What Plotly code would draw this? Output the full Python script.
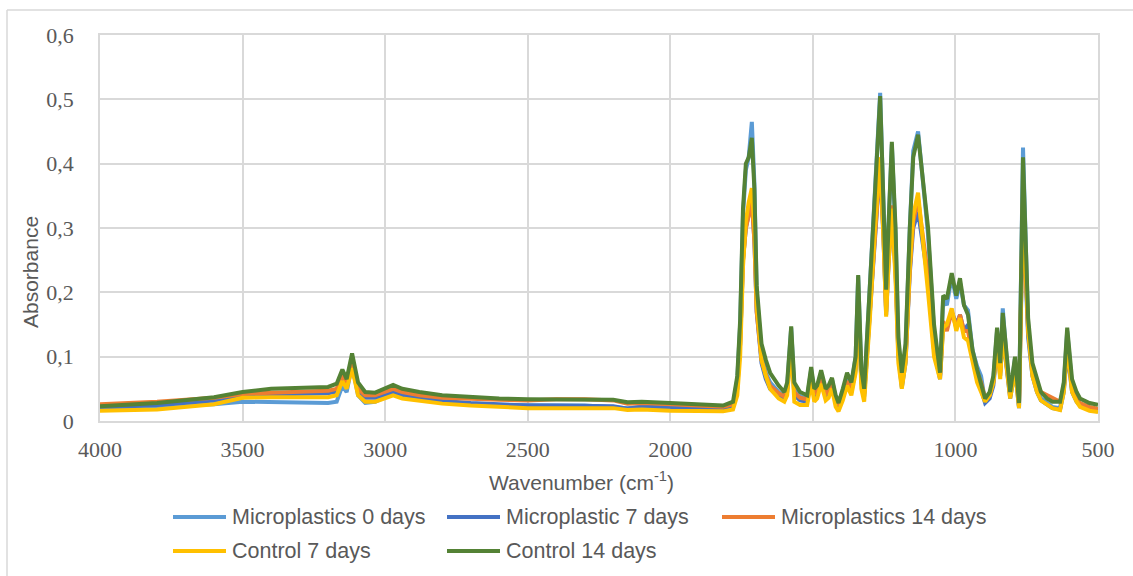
import plotly.graph_objects as go

# ---------------- data ----------------
wavenumber = [4000, 3800, 3600, 3500, 3400, 3300, 3200, 3170, 3150, 3135, 3116, 3095, 3070, 3035,
              3000, 2972, 2940, 2880, 2800, 2700, 2600, 2500, 2400, 2300, 2200, 2150, 2100, 2000,
              1900, 1815, 1780, 1765, 1755, 1745, 1735, 1725, 1714, 1705, 1697, 1680, 1665, 1650,
              1620, 1600, 1590, 1576, 1565, 1545, 1520, 1506, 1495, 1485, 1471, 1455, 1445, 1433,
              1420, 1410, 1395, 1380, 1365, 1350, 1341, 1330, 1320, 1300, 1282, 1264, 1252, 1243,
              1235, 1223, 1210, 1200, 1188, 1175, 1160, 1148, 1131, 1115, 1096, 1075, 1054, 1043,
              1030, 1013, 997, 984, 970, 956, 940, 924, 910, 896, 880, 867, 854, 843, 834, 820,
              808, 791, 777, 763, 755, 745, 730, 714, 700, 679, 660, 633, 620, 608, 598, 591,
              575, 563, 530, 500]

mp_0_days = [0.019, 0.022, 0.026, 0.030, 0.029, 0.028, 0.028, 0.030, 0.055, 0.045, 0.088, 0.040, 0.028, 0.030,
             0.037, 0.045, 0.038, 0.033, 0.030, 0.027, 0.025, 0.024, 0.024, 0.024, 0.022, 0.020, 0.022, 0.021,
             0.019, 0.019, 0.024, 0.065, 0.150, 0.320, 0.390, 0.410, 0.465, 0.370, 0.200, 0.105, 0.075, 0.060,
             0.045, 0.038, 0.055, 0.145, 0.050, 0.038, 0.035, 0.080, 0.045, 0.050, 0.075, 0.045, 0.050, 0.065,
             0.035, 0.022, 0.045, 0.070, 0.055, 0.100, 0.225, 0.075, 0.045, 0.200, 0.360, 0.510, 0.350, 0.200,
             0.300, 0.430, 0.290, 0.120, 0.060, 0.110, 0.300, 0.420, 0.450, 0.380, 0.290, 0.140, 0.070, 0.190,
             0.180, 0.225, 0.190, 0.215, 0.180, 0.172, 0.110, 0.085, 0.070, 0.030, 0.040, 0.065, 0.140, 0.085, 0.175, 0.095,
             0.040, 0.098, 0.022, 0.425, 0.300, 0.150, 0.075, 0.050, 0.035, 0.028, 0.022, 0.020, 0.055, 0.140, 0.090, 0.055,
             0.035, 0.027, 0.020, 0.017]

mp_7_days = [0.021, 0.025, 0.032, 0.039, 0.041, 0.042, 0.043, 0.046, 0.068, 0.055, 0.085, 0.045, 0.036, 0.036,
             0.041, 0.045, 0.040, 0.036, 0.031, 0.028, 0.026, 0.024, 0.024, 0.024, 0.023, 0.019, 0.022, 0.021,
             0.019, 0.018, 0.022, 0.050, 0.120, 0.250, 0.300, 0.320, 0.345, 0.280, 0.170, 0.090, 0.065, 0.050,
             0.038, 0.033, 0.045, 0.120, 0.040, 0.032, 0.030, 0.065, 0.038, 0.042, 0.062, 0.038, 0.042, 0.055,
             0.030, 0.020, 0.040, 0.060, 0.045, 0.080, 0.185, 0.060, 0.038, 0.160, 0.290, 0.400, 0.280, 0.165,
             0.240, 0.330, 0.230, 0.100, 0.052, 0.090, 0.230, 0.300, 0.325, 0.280, 0.220, 0.110, 0.065, 0.150,
             0.145, 0.170, 0.150, 0.165, 0.140, 0.150, 0.100, 0.070, 0.050, 0.028, 0.035, 0.055, 0.115, 0.070, 0.135, 0.080,
             0.035, 0.080, 0.020, 0.330, 0.240, 0.130, 0.070, 0.045, 0.032, 0.025, 0.020, 0.018, 0.045, 0.110, 0.075, 0.045,
             0.030, 0.024, 0.018, 0.015]

mp_14_days = [0.026, 0.030, 0.036, 0.042, 0.044, 0.045, 0.047, 0.050, 0.072, 0.058, 0.090, 0.050, 0.040, 0.040,
              0.045, 0.050, 0.045, 0.040, 0.036, 0.034, 0.033, 0.032, 0.034, 0.034, 0.032, 0.027, 0.028, 0.026,
              0.023, 0.022, 0.026, 0.055, 0.120, 0.250, 0.300, 0.320, 0.340, 0.280, 0.170, 0.095, 0.072, 0.055,
              0.043, 0.038, 0.050, 0.125, 0.045, 0.036, 0.034, 0.068, 0.042, 0.046, 0.065, 0.042, 0.046, 0.058,
              0.033, 0.024, 0.043, 0.062, 0.048, 0.085, 0.190, 0.065, 0.042, 0.165, 0.295, 0.405, 0.285, 0.170,
              0.245, 0.335, 0.235, 0.105, 0.058, 0.095, 0.235, 0.310, 0.345, 0.290, 0.225, 0.115, 0.070, 0.155,
              0.140, 0.170, 0.145, 0.165, 0.140, 0.140, 0.100, 0.075, 0.060, 0.035, 0.040, 0.060, 0.120, 0.075, 0.140, 0.085,
              0.040, 0.085, 0.028, 0.340, 0.250, 0.140, 0.080, 0.055, 0.045, 0.040, 0.035, 0.030, 0.050, 0.115, 0.080, 0.050,
              0.035, 0.028, 0.022, 0.019]

control_7_days = [0.016, 0.018, 0.026, 0.036, 0.037, 0.037, 0.037, 0.040, 0.062, 0.050, 0.082, 0.040, 0.030, 0.030,
                  0.036, 0.040, 0.035, 0.031, 0.027, 0.024, 0.022, 0.020, 0.020, 0.020, 0.020, 0.017, 0.018, 0.016,
                  0.015, 0.015, 0.018, 0.040, 0.100, 0.240, 0.310, 0.340, 0.362, 0.300, 0.180, 0.095, 0.070, 0.050,
                  0.035, 0.030, 0.040, 0.120, 0.030, 0.025, 0.025, 0.060, 0.030, 0.035, 0.058, 0.032, 0.036, 0.050,
                  0.022, 0.015, 0.032, 0.055, 0.040, 0.075, 0.190, 0.050, 0.030, 0.160, 0.300, 0.410, 0.280, 0.162,
                  0.240, 0.330, 0.220, 0.090, 0.050, 0.090, 0.240, 0.320, 0.355, 0.290, 0.200, 0.100, 0.065, 0.145,
                  0.150, 0.175, 0.140, 0.160, 0.130, 0.125, 0.090, 0.060, 0.045, 0.030, 0.040, 0.060, 0.120, 0.065, 0.140, 0.075,
                  0.035, 0.080, 0.020, 0.350, 0.250, 0.140, 0.070, 0.045, 0.032, 0.025, 0.020, 0.017, 0.045, 0.120, 0.075, 0.045,
                  0.030, 0.022, 0.016, 0.014]

control_14_days = [0.023, 0.028, 0.037, 0.045, 0.050, 0.051, 0.053, 0.058, 0.080, 0.065, 0.105, 0.060, 0.045, 0.044,
                   0.050, 0.056, 0.050, 0.045, 0.040, 0.037, 0.035, 0.034, 0.034, 0.034, 0.033, 0.029, 0.030, 0.028,
                   0.025, 0.024, 0.030, 0.070, 0.157, 0.330, 0.400, 0.410, 0.440, 0.360, 0.210, 0.120, 0.095, 0.075,
                   0.055, 0.045, 0.060, 0.147, 0.060, 0.045, 0.040, 0.084, 0.050, 0.055, 0.079, 0.050, 0.055, 0.067,
                   0.040, 0.028, 0.050, 0.075, 0.060, 0.100, 0.227, 0.080, 0.050, 0.200, 0.355, 0.505, 0.350, 0.204,
                   0.300, 0.434, 0.300, 0.130, 0.075, 0.120, 0.300, 0.410, 0.445, 0.380, 0.300, 0.150, 0.075, 0.195,
                   0.190, 0.230, 0.195, 0.222, 0.180, 0.165, 0.110, 0.080, 0.060, 0.035, 0.045, 0.070, 0.145, 0.090, 0.168, 0.100,
                   0.045, 0.100, 0.028, 0.410, 0.300, 0.160, 0.090, 0.064, 0.045, 0.035, 0.030, 0.030, 0.060, 0.145, 0.100, 0.065,
                   0.045, 0.035, 0.028, 0.025]

series_names = ["Microplastics 0 days", "Microplastic 7 days", "Microplastics 14 days",
                "Control 7 days", "Control 14 days"]
series_values = [mp_0_days, mp_7_days, mp_14_days, control_7_days, control_14_days]
series_colors = ["#5B9BD5", "#4472C4", "#ED7D31", "#FFC000", "#548235"]

x_tick_values = [4000, 3500, 3000, 2500, 2000, 1500, 1000, 500]
x_tick_labels = ["4000", "3500", "3000", "2500", "2000", "1500", "1000", "500"]
y_tick_values = [0, 0.1, 0.2, 0.3, 0.4, 0.5, 0.6]
y_tick_labels = ["0", "0,1", "0,2", "0,3", "0,4", "0,5", "0,6"]

# ---------------- layout geometry (pixels) ----------------
W, H = 1133, 576
PL, PR, PT, PB = 100, 1098, 35, 421   # plot area edges


def px_x(px):
    return (px - PL) / (PR - PL)


def px_y(py):
    return (PB - py) / (PB - PT)


GRID = "#D9D9D9"
TEXT = "#595959"

fig = go.Figure()
for name, vals, col in zip(series_names, series_values, series_colors):
    fig.add_trace(go.Scatter(x=wavenumber, y=vals, mode="lines", name=name,
                             line=dict(color=col, width=4), showlegend=False))

shapes = [
    # outer chart border (top and left visible)
    dict(type="line", xref="paper", yref="paper", x0=px_x(7), x1=px_x(1133), y0=px_y(10), y1=px_y(10),
         line=dict(color=GRID, width=1.5)),
    dict(type="line", xref="paper", yref="paper", x0=px_x(7), x1=px_x(7), y0=px_y(10), y1=px_y(578),
         line=dict(color=GRID, width=1.5)),
]
annotations = [
    dict(text="Absorbance", xref="paper", yref="paper", x=px_x(30), y=px_y(272), showarrow=False,
         textangle=-90, font=dict(family="Liberation Sans", size=21, color=TEXT),
         xanchor="center", yanchor="middle"),
    dict(text="Wavenumber (cm<sup>-1</sup>)", xref="paper", yref="paper", x=px_x(581), y=px_y(481),
         showarrow=False, font=dict(family="Liberation Sans", size=21, color=TEXT),
         xanchor="center", yanchor="middle"),
]

# manual legend (two rows, three columns) built from the series names/colours
legend_pos = [(173, 517), (447, 517), (722, 517), (173, 551), (447, 551)]
for (lx, ly), name, col in zip(legend_pos, series_names, series_colors):
    shapes.append(dict(type="line", xref="paper", yref="paper", x0=px_x(lx), x1=px_x(lx + 53),
                       y0=px_y(ly), y1=px_y(ly), line=dict(color=col, width=4)))
    annotations.append(dict(text=name, xref="paper", yref="paper", x=px_x(lx + 57), y=px_y(ly),
                            showarrow=False, xanchor="left", yanchor="middle",
                            font=dict(family="Liberation Sans", size=21.5, color=TEXT)))

fig.update_layout(
    width=W, height=H, autosize=False,
    margin=dict(l=PL, r=W - PR, t=PT, b=H - PB, pad=0),
    paper_bgcolor="white", plot_bgcolor="white",
    shapes=shapes, annotations=annotations,
    xaxis=dict(range=[4000, 500], tickvals=x_tick_values, ticktext=x_tick_labels,
               showgrid=True, gridcolor=GRID, gridwidth=1.5, zeroline=False,
               showline=True, linecolor=GRID, linewidth=2, mirror=True,
               ticks="", ticklabelstandoff=8,
               tickfont=dict(family="Liberation Serif", size=22, color=TEXT)),
    yaxis=dict(range=[0, 0.6], tickvals=y_tick_values, ticktext=y_tick_labels,
               showgrid=True, gridcolor=GRID, gridwidth=1.5, zeroline=False,
               showline=True, linecolor=GRID, linewidth=1.5, mirror=True,
               ticks="", ticklabelstandoff=20,
               tickfont=dict(family="Liberation Serif", size=22, color=TEXT)),
)

fig.write_html("out.html")
